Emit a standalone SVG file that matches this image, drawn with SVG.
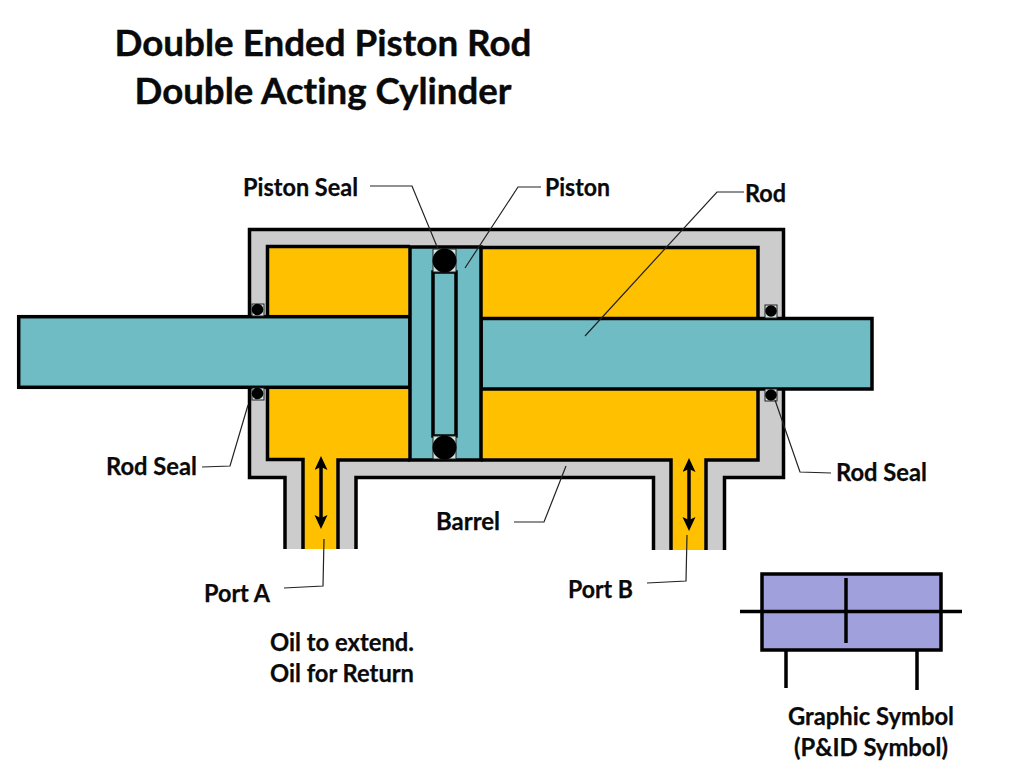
<svg xmlns="http://www.w3.org/2000/svg" width="1024" height="768" viewBox="0 0 1024 768">
<style>
text{font-family:Lato,"Open Sans","Liberation Sans",sans-serif;font-weight:700;fill:#0a0a0a;font-size:24px;font-variant-ligatures:none;stroke:#0a0a0a;stroke-width:.25}
.t{font-size:37px;stroke-width:.4}
.m{text-anchor:middle}
.o{stroke:#000;stroke-width:3.5;fill:none}
.oil{fill:#ffc000}
.steel{fill:#70bcc4;stroke:#000;stroke-width:3.5}
.box{fill:#cfe3e0;stroke:#222;stroke-width:1}
.lead{fill:none;stroke:#222;stroke-width:1.2}
.arr{stroke:#000;stroke-width:3.5;fill:none}
</style>
<defs>
<marker id="ah" markerWidth="14" markerHeight="14" refX="5" refY="6.500" orient="auto-start-reverse" markerUnits="userSpaceOnUse"><path d="M0 0L14 6.500L0 13L3 6.500Z" fill="#000"/></marker>
</defs>
<g id="title"><text class="t m" x="323" y="56" textLength="417" lengthAdjust="spacingAndGlyphs">Double Ended Piston Rod</text><text class="t m" x="323" y="104" textLength="377" lengthAdjust="spacingAndGlyphs">Double Acting Cylinder</text></g>
<g id="barrel">
<path d="M249.500 229.500H783.500V477.500H724.500V550H653.500V477.500H356V549H285V477.500H249.500Z" fill="#cccccc"/>
<path d="M267.500 246.500H758V460H706V550H671V460H338V549H303V459.500H267.500Z" class="oil"/>
<path class="o" d="M285 549V477.500H249.500V229.500H783.500V477.500H724.500V550M356 549V477.500H653.500V550"/>
<path class="o" d="M303 549V459.500H267.500V246.500H410M481 247.500H758V460H706V550M671 550V460H481M410 460H338V549"/>
</g>
<g id="rod-left"><rect class="steel" x="18.700" y="316.700" width="391.300" height="70.600"/></g>
<g id="rod-right"><rect class="steel" x="481" y="318.500" width="391" height="70.500"/></g>
<g id="piston">
<rect class="steel" x="410" y="247" width="71" height="213"/>
<rect class="steel" x="433" y="272" width="23" height="164"/>
<rect class="box" x="433" y="249" width="23" height="23"/><circle cx="444.500" cy="260.500" r="12"/>
<rect class="box" x="433" y="436" width="23" height="23"/><circle cx="444.500" cy="447.500" r="12"/>
</g>
<g id="rod-seals">
<rect class="box" x="252" y="304" width="12" height="12"/><circle cx="257.500" cy="309.500" r="5.800"/>
<rect class="box" x="252" y="388" width="12" height="12"/><circle cx="257.500" cy="393.500" r="5.800"/>
<rect class="box" x="765" y="305" width="12" height="13"/><circle cx="771" cy="311" r="5.800"/>
<rect class="box" x="765" y="389" width="12" height="12"/><circle cx="771" cy="395" r="5.800"/>
</g>
<g id="connectors">
<path class="lead" d="M370 186H412L438 249"/>
<path class="lead" d="M541 187H518L465 268"/>
<path class="lead" d="M744 192H717L585 336"/>
<path class="lead" d="M202 467L230 466L248 405"/>
<path class="lead" d="M831 473L800 472L775 400"/>
<path class="lead" d="M514 522H544L566 466"/>
<path class="lead" d="M284 588L323 586L324 539"/>
<path class="lead" d="M647 583L686 581L687 535"/>
<path class="arr" marker-start="url(#ah)" marker-end="url(#ah)" d="M321 465V520"/>
<path class="arr" marker-start="url(#ah)" marker-end="url(#ah)" d="M689 467V522"/>
</g>
<g id="symbol">
<rect x="762" y="574" width="179" height="76" fill="#a0a0dc" stroke="#000" stroke-width="3.500"/>
<path class="o" d="M740 611.500H962M846 578V643M786 650V688M917 650V690"/>
</g>
<g id="labels">
<text x="243" y="196" textLength="115" lengthAdjust="spacingAndGlyphs">Piston Seal</text>
<text x="545" y="196" textLength="65" lengthAdjust="spacingAndGlyphs">Piston</text>
<text x="745" y="202" textLength="41" lengthAdjust="spacingAndGlyphs">Rod</text>
<text x="106" y="475" textLength="91" lengthAdjust="spacingAndGlyphs">Rod Seal</text>
<text x="836" y="481" textLength="91" lengthAdjust="spacingAndGlyphs">Rod Seal</text>
<text x="436" y="530" textLength="64" lengthAdjust="spacingAndGlyphs">Barrel</text>
<text x="204" y="602" textLength="66" lengthAdjust="spacingAndGlyphs">Port A</text>
<text x="568" y="598" textLength="65" lengthAdjust="spacingAndGlyphs">Port B</text>
<text x="270" y="651" textLength="144" lengthAdjust="spacingAndGlyphs">Oil to extend.</text>
<text x="270" y="682" textLength="144" lengthAdjust="spacingAndGlyphs">Oil for Return</text>
<text class="m" x="871" y="725" textLength="166" lengthAdjust="spacingAndGlyphs">Graphic Symbol</text>
<text class="m" x="871" y="756" textLength="154" lengthAdjust="spacingAndGlyphs">(P&amp;ID Symbol)</text>
</g>
</svg>
